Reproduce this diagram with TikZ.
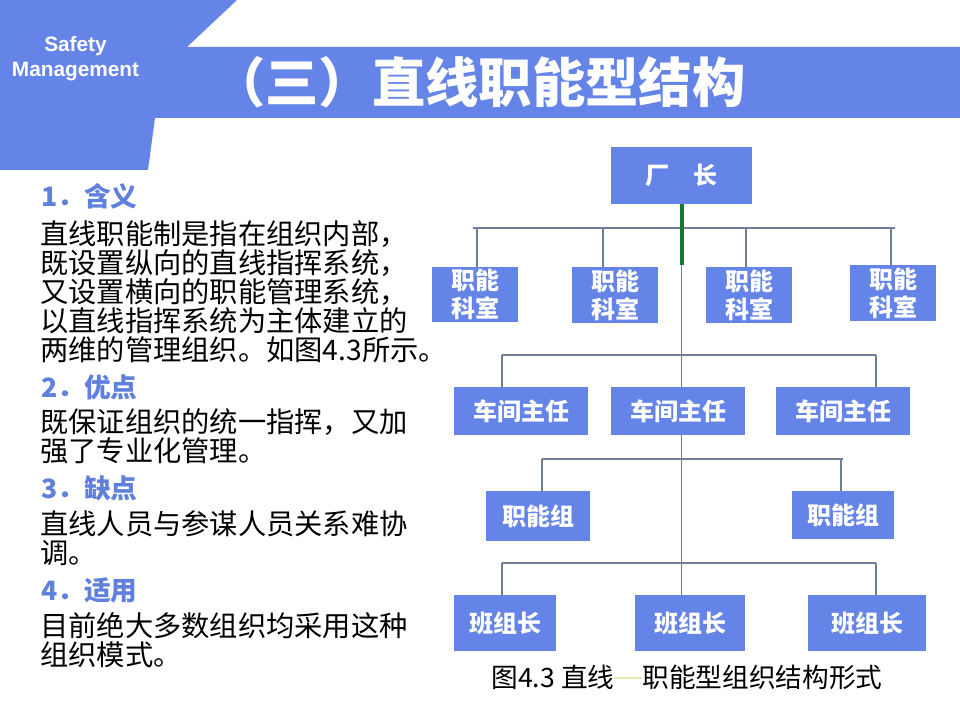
\documentclass[tikz,border=0pt]{standalone}
\usepackage{fontspec}
\newfontfamily\cjk{Noto Sans CJK SC}
\newfontfamily\lsans{Liberation Sans}
\definecolor{headblue}{RGB}{100,132,232}
\definecolor{boxblue}{RGB}{100,132,232}
\definecolor{txtblue}{RGB}{96,128,222}
\definecolor{linegray}{RGB}{112,126,150}
\definecolor{greenbar}{RGB}{24,120,48}
\definecolor{capline}{RGB}{232,232,170}
\usetikzlibrary{calc}
\def\px{*0.75pt}
\tikzset{
  hdr/.style={anchor=west, inner sep=0pt, text=txtblue, font=\cjk\bfseries\fontsize{20}{20}\selectfont},
  body/.style={anchor=west, inner sep=0pt, font=\cjk\fontsize{21.2}{21}\selectfont},
  obox/.style={fill=boxblue, text=white, inner sep=0pt, align=center,
    font=\cjk\bfseries\fontsize{18}{21}\selectfont},
  conn/.style={draw=linegray, line width=1.1pt},
}
\begin{document}
\begin{tikzpicture}[x=0.75pt,y=-0.75pt]
\useasboundingbox (0,0) rectangle (960,720);
% header shape
\fill[headblue] (0,0) -- (237,0) -- (187,47) -- (960,47) -- (960,118) -- (155,118) -- (148,170) -- (0,170) -- cycle;
\node[text=white, font=\lsans\bfseries\fontsize{15.6}{19}\selectfont, align=center] (brand) at (75.5,58.5) {Safety\\Management};
\node[anchor=west, inner sep=0pt, text=white, font=\cjk\bfseries\fontsize{40}{40}\selectfont] (title) at (212,82) {（三）直线职能型结构};

% left text
\node[hdr] (h1) at (41,196) {1．含义};
\node[body] (l1) at (40,234) {直线职能制是指在组织内部，};
\node[body] (l2) at (40,263) {既设置纵向的直线指挥系统，};
\node[body] (l3) at (40,292) {又设置横向的职能管理系统，};
\node[body] (l4) at (40,321) {以直线指挥系统为主体建立的};
\node[body] (l5) at (40,350) {两维的管理组织。如图4.3所示。};
\node[hdr] (h2) at (41,387) {2．优点};
\node[body] (l6) at (40,422) {既保证组织的统一指挥，又加};
\node[body] (l7) at (40,451) {强了专业化管理。};
\node[hdr] (h3) at (41,488) {3．缺点};
\node[body] (l8) at (40,524) {直线人员与参谋人员关系难协};
\node[body] (l9) at (40,553) {调。};
\node[hdr] (h4) at (41,590) {4．适用};
\node[body] (l10) at (40,626) {目前绝大多数组织均采用这种};
\node[body] (l11) at (40,655) {组织模式。};

% org chart boxes
\node[obox, minimum width=141\px, minimum height=57\px] (ceo) at (681.5,175.5) {厂\hspace{1em}长};
\node[obox, minimum width=86\px, minimum height=55\px] (f1) at (475,294.5) {职能\\科室};
\node[obox, minimum width=86\px, minimum height=56\px] (f2) at (615,295) {职能\\科室};
\node[obox, minimum width=86\px, minimum height=56\px] (f3) at (749,295) {职能\\科室};
\node[obox, minimum width=86\px, minimum height=56\px] (f4) at (893,293) {职能\\科室};
\node[obox, minimum width=134\px, minimum height=48\px] (w1) at (521,411) {车间主任};
\node[obox, minimum width=134\px, minimum height=48\px] (w2) at (678,411) {车间主任};
\node[obox, minimum width=134\px, minimum height=48\px] (w3) at (843,411) {车间主任};
\node[obox, minimum width=104\px, minimum height=50\px] (g1) at (538,516) {职能组};
\node[obox, minimum width=102\px, minimum height=48\px] (g2) at (843,515) {职能组};
\node[obox, minimum width=102\px, minimum height=56\px] (t1) at (505,623) {班组长};
\node[obox, minimum width=110\px, minimum height=56\px] (t2) at (690,623) {班组长};
\node[obox, minimum width=118\px, minimum height=56\px] (t3) at (867,623) {班组长};

% caption
\node[inner sep=0pt, font=\cjk\fontsize{20}{20}\selectfont] (cap) at (687,677) {图4.3 直线\textcolor{capline}{\rule[0.3em]{1.05em}{1.2pt}}职能型组织结构形式};

% connectors
\coordinate (bar1L) at (473,228);
\coordinate (bar1R) at (895,228);
\coordinate (bar2L) at (502,355);
\coordinate (bar2R) at (876,355);
\coordinate (bar3L) at (542,459);
\coordinate (bar3R) at (843,459);
\coordinate (bar4L) at (502,563);
\coordinate (bar4R) at (876,563);
\coordinate (gEnd) at (681,265);

\draw[conn] (bar1L) -- (bar1R);
\draw[conn] ([xshift=2\px]f1.north) -- ([xshift=2\px]f1.north |- bar1L);
\draw[conn] ([xshift=-12\px]f2.north) -- ([xshift=-12\px]f2.north |- bar1L);
\draw[conn] ([xshift=-3\px]f3.north) -- ([xshift=-3\px]f3.north |- bar1L);
\draw[conn] ([xshift=-2\px]f4.north) -- ([xshift=-2\px]f4.north |- bar1L);

\draw[conn] (ceo.south) -- (ceo.south |- w2.north);
\draw[conn] (bar2L) -- (bar2R);
\draw[conn] (bar2L) -- (bar2L |- w1.north);
\draw[conn] (bar2R) -- (bar2R |- w3.north);

\draw[conn] (ceo.south |- w2.south) -- (ceo.south |- t2.north);
\draw[conn] (bar3L) -- (bar3R);
\draw[conn] (bar3L) -- (bar3L |- g1.north);
\draw[conn] ([xshift=-2\px]g2.north) -- ([xshift=-2\px]g2.north |- bar3R);

\draw[conn] (bar4L) -- (bar4R);
\draw[conn] (bar4L) -- (bar4L |- t1.north);
\draw[conn] (bar4R) -- (bar4R |- t3.north);

\draw[greenbar, line width=4\px] (ceo.south) -- (ceo.south |- gEnd);
\end{tikzpicture}
\end{document}
